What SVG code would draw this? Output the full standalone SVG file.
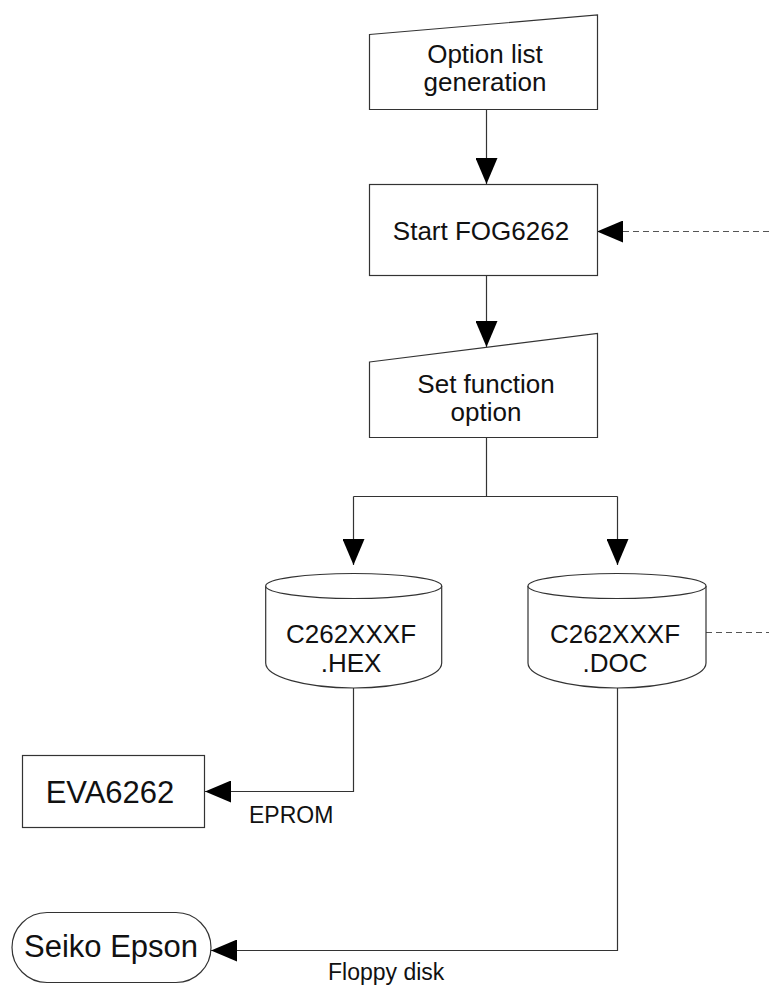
<svg xmlns="http://www.w3.org/2000/svg" width="769" height="991" viewBox="0 0 769 991">
  <style>
    .shape { fill: #fff; stroke: #333; stroke-width: 1.2; }
    .wire { fill: none; stroke: #333; stroke-width: 1.2; }
    .dash { fill: none; stroke: #555; stroke-width: 1.2; stroke-dasharray: 6 4; }
    text { font-family: "Liberation Sans", Arial, sans-serif; fill: #111; text-anchor: middle; }
    .t26 { font-size: 26px; }
    .t31 { font-size: 31px; }
    .lbl { font-size: 23px; text-anchor: start; }
  </style>
  <defs>
    <marker id="head" viewBox="0 0 26 22" refX="26" refY="11" markerWidth="26" markerHeight="22" markerUnits="userSpaceOnUse" orient="auto">
      <path d="M0,0 L26,11 L0,22 Z" fill="#000"/>
    </marker>
  </defs>

  <!-- connectors -->
  <g id="connectors">
    <path class="wire" d="M486.5,109 V184" marker-end="url(#head)"/>
    <path class="wire" d="M486.5,275 V347" marker-end="url(#head)"/>
    <path class="wire" d="M486.5,437 V496.5 M353.5,496.5 H617.5"/>
    <path class="wire" d="M353.5,496.5 V565" marker-end="url(#head)"/>
    <path class="wire" d="M617.5,496.5 V565" marker-end="url(#head)"/>
    <path class="dash" d="M769,231.5 H597" marker-end="url(#head)"/>
    <path class="dash" d="M706,632.5 H769"/>
    <path class="wire" d="M353.5,688 V791.5 H205" marker-end="url(#head)"/>
    <path class="wire" d="M617.5,688 V950.5 H211" marker-end="url(#head)"/>
  </g>

  <!-- manual input: option list generation -->
  <g id="option-list">
    <path class="shape" d="M369.5,34.5 L597.5,15 V109.5 H369.5 Z"/>
    <text class="t26" x="485" y="63">Option list</text>
    <text class="t26" x="485" y="91">generation</text>
  </g>

  <!-- process: start FOG6262 -->
  <g id="start-fog">
    <rect class="shape" x="369.5" y="184.5" width="228" height="91"/>
    <text class="t26" x="481" y="240">Start FOG6262</text>
  </g>

  <!-- manual input: set function option -->
  <g id="set-function">
    <path class="shape" d="M369.5,362 L597.5,333.5 V437.5 H369.5 Z"/>
    <text class="t26" x="486" y="393">Set function</text>
    <text class="t26" x="486" y="421">option</text>
  </g>

  <!-- stored data: HEX file -->
  <g id="hex-file">
    <path class="shape" d="M265.7,586 V663 A88,25 0 0 0 441.7,663 V586"/>
    <ellipse class="shape" cx="353.7" cy="586" rx="88" ry="12.5"/>
    <text class="t26" x="351" y="643">C262XXXF</text>
    <text class="t26" x="351" y="671.5">.HEX</text>
  </g>

  <!-- stored data: DOC file -->
  <g id="doc-file">
    <path class="shape" d="M528,586 V663 A89,25 0 0 0 706,663 V586"/>
    <ellipse class="shape" cx="617" cy="586" rx="89" ry="12.5"/>
    <text class="t26" x="615" y="643">C262XXXF</text>
    <text class="t26" x="615" y="671.5">.DOC</text>
  </g>

  <!-- evaluation board -->
  <g id="eva">
    <rect class="shape" x="22.5" y="755.5" width="182" height="72"/>
    <text class="t31" x="110" y="803">EVA6262</text>
  </g>

  <!-- terminal: Seiko Epson -->
  <g id="seiko-epson">
    <rect class="shape" x="12" y="912.5" width="199" height="70" rx="35" ry="35"/>
    <text class="t31" x="111" y="957">Seiko Epson</text>
  </g>

  <!-- media labels -->
  <g id="labels">
    <text class="lbl" x="249" y="823">EPROM</text>
    <text class="lbl" x="328" y="980">Floppy disk</text>
  </g>
</svg>
